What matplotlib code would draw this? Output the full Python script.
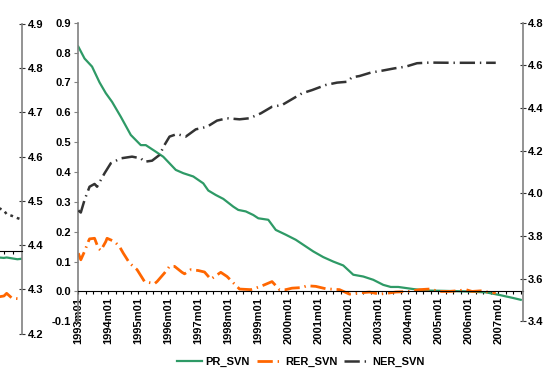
import numpy as np
import matplotlib
matplotlib.use("Agg")
import matplotlib.pyplot as plt

plt.rcParams["font.family"] = ["Liberation Sans", "DejaVu Sans"]
plt.rcParams["font.weight"] = "bold"
plt.rcParams["font.size"] = 8
plt.rcParams["lines.scale_dashes"] = False

# months counted from 1993m01
year_labels = ["%dm01" % y for y in range(1993, 2008)]

pr_month = [0, 2.5, 5.5, 8.5, 11, 13.5, 17, 21, 25, 27, 31, 34, 39, 42, 46, 50, 52, 55,
            58, 62, 64, 67, 70, 72, 76, 79, 83, 87, 94, 98, 102, 106, 110, 114,
            118, 122, 125, 128, 134, 139, 146, 155, 163, 168, 174, 177]
pr_value = [0.820, 0.780, 0.753, 0.700, 0.664, 0.635, 0.585, 0.524, 0.490, 0.490,
            0.468, 0.451, 0.407, 0.396, 0.385, 0.362, 0.338, 0.323, 0.310, 0.284,
            0.273, 0.268, 0.256, 0.245, 0.240, 0.206, 0.190, 0.173, 0.134, 0.115,
            0.100, 0.087, 0.056, 0.050, 0.039, 0.022, 0.015, 0.015, 0.008, 0.003,
            0.002, 0.000, -0.003, -0.011, -0.022, -0.028]

rer_month = [0, 1, 2.5, 4, 4.5, 6.5, 8, 9, 11, 11.5, 14.5, 16.5, 18, 20.5, 23.5,
             26.5, 30.5, 31.5, 34.5, 36.5, 38.5, 41.5, 42.5, 45, 48, 50.5, 53,
             57, 59.5, 61.5, 64.5, 69, 73, 77.5, 80.5, 83, 85.5, 89.5, 91.5, 95,
             99, 104.5, 108.5, 112.5, 116.5, 120.5, 124.5, 127, 132.5, 136.5,
             140.5, 144.5, 148.5, 152.5, 155, 157.5, 161, 164.5, 167]
rer_value = [0.128, 0.106, 0.134, 0.167, 0.176, 0.178, 0.145, 0.137, 0.167, 0.178,
             0.167, 0.150, 0.128, 0.095, 0.073, 0.033, 0.026, 0.033, 0.062, 0.084,
             0.084, 0.064, 0.059, 0.073, 0.070, 0.065, 0.041, 0.064, 0.050, 0.033,
             0.008, 0.006, 0.017, 0.033, 0.006, 0.006, 0.011, 0.013, 0.019, 0.017,
             0.009, 0.006, -0.009, -0.005, -0.002, -0.009, -0.005, -0.002, 0.000,
             0.006, 0.008, 0.000, 0.000, 0.003, 0.006, 0.000, 0.002, -0.003, -0.005]

ner_month = [0, 1, 2.5, 4.5, 6.5, 7.5, 10.5, 13, 17, 21.5, 25, 26.5, 29.5, 32.5,
             34.5, 36.5, 39.5, 43, 47, 51.5, 55.5, 59.5, 64.5, 68.5, 73, 77.5,
             81.5, 89.5, 93.5, 99, 103.5, 107.5, 109.5, 112.5, 117, 121.5, 126.5,
             131, 135.5, 140.5, 150, 160, 167]
ner_value = [3.920, 3.910, 3.969, 4.031, 4.044, 4.031, 4.094, 4.141, 4.164, 4.172,
             4.164, 4.148, 4.153, 4.180, 4.227, 4.266, 4.278, 4.266, 4.300, 4.312,
             4.341, 4.352, 4.347, 4.352, 4.375, 4.406, 4.414, 4.469, 4.484, 4.508,
             4.519, 4.523, 4.544, 4.550, 4.566, 4.575, 4.586, 4.594, 4.610, 4.613,
             4.612, 4.612, 4.612]

# tail of the neighbouring panel (its right-hand axis only)
nb_month = [170, 172, 173, 175, 177, 178.5]
nb_green = [4.372, 4.371, 4.372, 4.370, 4.368, 4.369]
nb_black = [4.484, 4.478, 4.470, 4.466, 4.461, 4.458]
nb_orange = [4.283, 4.285, 4.291, 4.280, 4.279, 4.278]

GREEN = "#2E9A66"
ORANGE = "#FF6600"
DARK = "#333333"
AXIS = "#808080"
dash_dot = (0, (11, 3.5, 1, 3.5))

W, H = 546, 368
fig = plt.figure(figsize=(W / 100, H / 100), dpi=100)

# --- neighbouring panel, cut at the left edge ---
ax0 = fig.add_axes([-0.01, 1 - 333.6 / H, 21.7 / W + 0.01, (333.6 - 23.8) / H])
for s in ("left", "top"):
    ax0.spines[s].set_visible(False)
ax0.spines["right"].set_color(AXIS)
ax0.spines["right"].set_linewidth(1.2)
ax0.spines["bottom"].set_position(("data", 4.386))
ax0.spines["bottom"].set_color("black")
ax0.patch.set_visible(False)
ax0.plot(nb_month, nb_green, color=GREEN, lw=1.6)
ax0.plot(nb_month, nb_orange, color=ORANGE, lw=2, ls=dash_dot)
ax0.plot(nb_month, nb_black, color=DARK, lw=1.8, ls=(0, (2, 3)))
ax0.set_xlim(168.5, 178.6)
ax0.set_ylim(4.2, 4.9)
ax0.set_yticks(np.arange(4.2, 4.91, 0.1))
ax0.set_yticklabels(["%.1f" % v for v in np.arange(4.2, 4.91, 0.1)])
ax0.yaxis.tick_right()
ax0.tick_params(axis="y", direction="inout", length=4.5, width=0.8, color=DARK, pad=2)
ax0.set_xticks([168.9, 172.2, 175.5])
ax0.tick_params(axis="x", direction="out", length=2.5, width=0.8, labelbottom=False)

# --- main panel ---
ax = fig.add_axes([78.3 / W, 1 - 321.3 / H, (523 - 78.3) / W, (321.3 - 22.7) / H])
ax2 = ax.twinx()

for s in ("top", "right"):
    ax.spines[s].set_visible(False)
for s in ("top", "left", "bottom"):
    ax2.spines[s].set_visible(False)
ax.spines["bottom"].set_position(("data", 0))
ax.spines["bottom"].set_color("black")
ax.spines["left"].set_color(AXIS)
ax.spines["left"].set_linewidth(1.2)
ax2.spines["right"].set_color(AXIS)
ax2.spines["right"].set_linewidth(1.2)

l1, = ax.plot(pr_month, pr_value, color=GREEN, lw=1.6, label="PR_SVN")
l2, = ax.plot(rer_month, rer_value, color=ORANGE, lw=2, ls=dash_dot, label="RER_SVN")
l3, = ax2.plot(ner_month, ner_value, color=DARK, lw=1.8, ls=dash_dot, label="NER_SVN")

ax.set_xlim(0, 177.9)
ax.set_ylim(-0.1, 0.9)
ax2.set_ylim(3.4, 4.8)

ax.set_yticks(np.arange(-0.1, 0.91, 0.1))
ax.set_yticklabels(["%.1f" % v for v in np.arange(-0.1, 0.91, 0.1)])
ax2.set_yticks(np.arange(3.4, 4.81, 0.2))
ax2.set_yticklabels(["%.1f" % v for v in np.arange(3.4, 4.81, 0.2)])

ax.set_xticks(np.arange(0, 169, 12))
ax.set_xticklabels(year_labels)
ax.set_xticks(np.arange(0, 178, 3), minor=True)
ax.tick_params(axis="x", which="both", direction="out", length=2.5, width=0.8,
               pad=1.5, labelrotation=90)
ax.tick_params(axis="y", direction="out", length=3, width=0.8, color=AXIS, pad=2.5)
ax2.tick_params(axis="y", direction="inout", length=4.5, width=0.8, color=DARK, pad=1.5)

fig.legend(handles=[l1, l2, l3], loc="center", bbox_to_anchor=(301 / W, 6 / H),
           ncol=3, frameon=False, handlelength=2.2, handletextpad=0.35,
           columnspacing=0.6, borderpad=0, borderaxespad=0)

fig.savefig("out.png", dpi=100)
